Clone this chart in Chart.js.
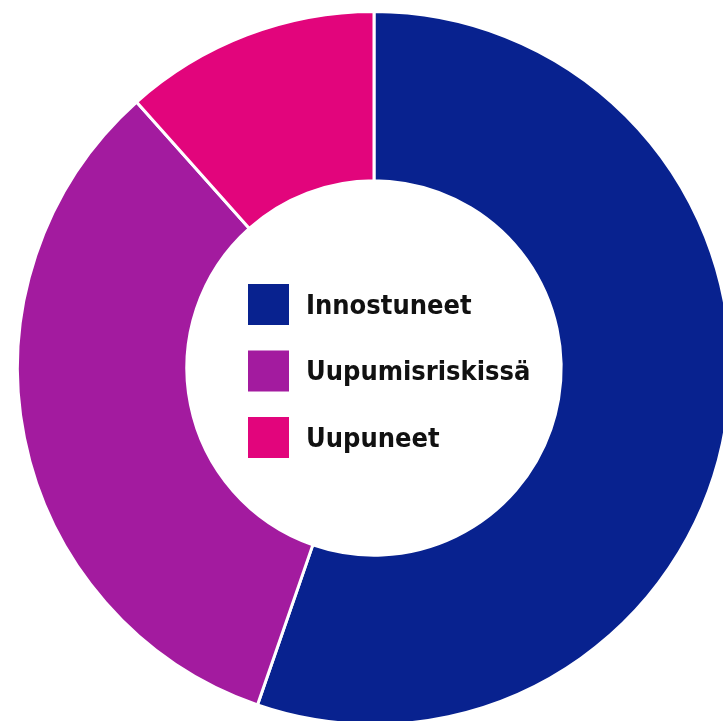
<!DOCTYPE html>
<html>
<head>
<meta charset="utf-8">
<script src="https://cdn.jsdelivr.net/npm/chart.js@4"></script>
<style>
  html, body { margin: 0; padding: 0; background: #fff; overflow: hidden; }
  #wrap { position: absolute; left: 0; top: 0; width: 748px; height: 736px; }
</style>
</head>
<body>
<div id="wrap"><canvas id="chart"></canvas></div>
<script>
const labels = ['Innostuneet', 'Uupumisriskissä', 'Uupuneet']
const shares = [55.3, 33.1, 11.6]
const colors = ['#08228f', '#a31b9f', '#e2057c']

// legend drawn in the middle of the hole
const centerLegend = {
  id: 'centerLegend',
  afterDraw(chart) {
    const ctx = chart.ctx
    const arc = chart.getDatasetMeta(0).data[0]
    const cx = arc.x
    const cy = arc.y
    const box = 41
    const pitch = 66.5
    ctx.save()
    ctx.font = "bold 27px 'DejaVu Sans Condensed', 'DejaVu Sans', sans-serif"
    ctx.textBaseline = 'middle'
    chart.data.labels.forEach((label, i) => {
      const rowY = cy + 3 + (i - 1) * pitch
      ctx.fillStyle = chart.data.datasets[0].backgroundColor[i]
      ctx.fillRect(cx - 126, rowY - box / 2, box, box)
      ctx.fillStyle = '#111'
      ctx.fillText(label, cx - 68, rowY + 2)
    })
    ctx.restore()
  }
}

new Chart(document.getElementById('chart'), {
  type: 'doughnut',
  data: {
    labels,
    datasets: [{
      data: shares,
      backgroundColor: colors,
      borderColor: '#ffffff',
      borderWidth: 3
    }]
  },
  options: {
    responsive: true,
    maintainAspectRatio: false,
    animation: false,
    cutout: '52.5%',
    layout: { padding: 10 },
    plugins: {
      legend: { display: false },
      tooltip: { enabled: false }
    }
  },
  plugins: [centerLegend]
})
</script>
</body>
</html>
